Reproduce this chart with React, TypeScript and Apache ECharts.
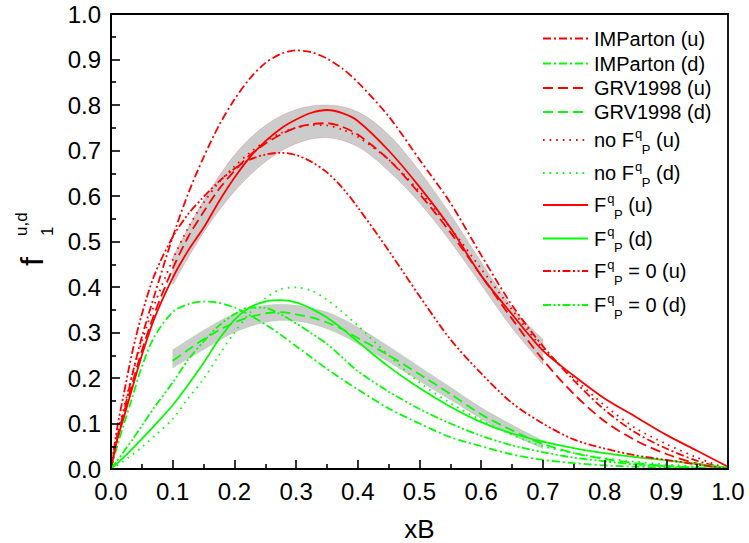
import React, { useEffect, useRef } from 'react';
import * as echarts from 'echarts';

// ---------- data ----------
const X = [0, 0.01, 0.02, 0.035, 0.05, 0.07, 0.1, 0.125, 0.15, 0.175, 0.2, 0.225, 0.25, 0.275, 0.3, 0.325, 0.35, 0.375, 0.4, 0.45, 0.5, 0.55, 0.6, 0.65, 0.7, 0.75, 0.8, 0.85, 0.9, 0.95, 1.0];

const IMP_U = [0, 0.06, 0.12, 0.21, 0.29, 0.38, 0.51, 0.605, 0.685, 0.755, 0.812, 0.858, 0.892, 0.912, 0.92, 0.916, 0.902, 0.88, 0.85, 0.775, 0.68, 0.585, 0.47, 0.36, 0.27, 0.195, 0.13, 0.08, 0.045, 0.018, 0];
const IMP_D = [0, 0.05, 0.095, 0.16, 0.225, 0.29, 0.345, 0.362, 0.368, 0.365, 0.355, 0.338, 0.318, 0.295, 0.27, 0.245, 0.22, 0.197, 0.175, 0.133, 0.1, 0.07, 0.05, 0.032, 0.02, 0.013, 0.008, 0.005, 0.003, 0.001, 0];
const GRV_U = [0, 0.07, 0.12, 0.19, 0.26, 0.34, 0.44, 0.51, 0.565, 0.615, 0.655, 0.69, 0.715, 0.735, 0.75, 0.758, 0.76, 0.752, 0.735, 0.68, 0.605, 0.52, 0.425, 0.33, 0.24, 0.165, 0.105, 0.063, 0.033, 0.012, 0];
const GRV_D = [null, null, null, null, null, null, 0.238, 0.262, 0.285, 0.305, 0.322, 0.334, 0.342, 0.345, 0.34, 0.333, 0.322, 0.307, 0.288, 0.25, 0.208, 0.165, 0.12, 0.085, 0.055, 0.035, 0.022, 0.013, 0.007, 0.003, 0];
const NOF_U = [0, 0.075, 0.13, 0.21, 0.28, 0.36, 0.46, 0.53, 0.585, 0.63, 0.665, 0.695, 0.72, 0.738, 0.75, 0.756, 0.755, 0.746, 0.73, 0.68, 0.61, 0.53, 0.44, 0.35, 0.265, 0.2, 0.14, 0.09, 0.055, 0.025, 0];
const NOF_D = [0, 0.008, 0.017, 0.032, 0.048, 0.072, 0.11, 0.155, 0.198, 0.25, 0.3, 0.343, 0.375, 0.395, 0.399, 0.392, 0.372, 0.345, 0.315, 0.25, 0.19, 0.145, 0.107, 0.075, 0.05, 0.035, 0.024, 0.016, 0.01, 0.005, 0];
const FQ_U = [0, 0.065, 0.11, 0.18, 0.25, 0.33, 0.42, 0.48, 0.53, 0.588, 0.64, 0.685, 0.72, 0.748, 0.768, 0.783, 0.789, 0.782, 0.765, 0.7, 0.62, 0.53, 0.425, 0.34, 0.26, 0.205, 0.155, 0.115, 0.075, 0.04, 0.005];
const FQ_D = [0, 0.012, 0.025, 0.045, 0.066, 0.095, 0.14, 0.185, 0.233, 0.285, 0.328, 0.355, 0.368, 0.371, 0.366, 0.352, 0.333, 0.308, 0.28, 0.225, 0.178, 0.137, 0.103, 0.078, 0.06, 0.046, 0.035, 0.026, 0.019, 0.011, 0.003];
const FQ0_U = [0, 0.09, 0.16, 0.26, 0.34, 0.425, 0.51, 0.56, 0.598, 0.632, 0.66, 0.68, 0.691, 0.695, 0.69, 0.675, 0.652, 0.618, 0.575, 0.48, 0.38, 0.285, 0.21, 0.145, 0.1, 0.065, 0.045, 0.03, 0.02, 0.01, 0];
const FQ0_D = [0, 0.018, 0.037, 0.065, 0.095, 0.135, 0.19, 0.24, 0.28, 0.315, 0.34, 0.355, 0.354, 0.34, 0.32, 0.298, 0.275, 0.245, 0.215, 0.17, 0.132, 0.1, 0.073, 0.052, 0.037, 0.025, 0.017, 0.01, 0.006, 0.003, 0];

// uncertainty bands
const BX = [0.1, 0.15, 0.2, 0.25, 0.3, 0.35, 0.4, 0.45, 0.5, 0.55, 0.6, 0.65, 0.7];
const BAND_U_LOW = [0.405, 0.52, 0.61, 0.675, 0.715, 0.728, 0.708, 0.655, 0.585, 0.5, 0.405, 0.31, 0.23];
const BAND_U_UP = [0.465, 0.59, 0.69, 0.755, 0.79, 0.8, 0.785, 0.735, 0.655, 0.56, 0.455, 0.355, 0.285];
const BAND_D_LOW = [0.222, 0.262, 0.3, 0.322, 0.325, 0.308, 0.275, 0.235, 0.193, 0.152, 0.11, 0.075, 0.045];
const BAND_D_UP = [0.262, 0.305, 0.342, 0.36, 0.36, 0.345, 0.312, 0.27, 0.225, 0.18, 0.135, 0.097, 0.062];

const LEGEND_LABELS = ['IMParton (u)', 'IMParton (d)', 'GRV1998 (u)', 'GRV1998 (d)', 'no F^q_P (u)', 'no F^q_P (d)', 'F^q_P (u)', 'F^q_P (d)', 'F^q_P = 0 (u)', 'F^q_P = 0 (d)'];
const SERIES_VALUES = [IMP_U, IMP_D, GRV_U, GRV_D, NOF_U, NOF_D, FQ_U, FQ_D, FQ0_U, FQ0_D];

const X_TICKS = [0, 0.1, 0.2, 0.3, 0.4, 0.5, 0.6, 0.7, 0.8, 0.9, 1.0];

// ---------- styles ----------
const FONT = '"Liberation Sans", Arial, Helvetica, sans-serif';
const RED = '#ff0000';
const GREEN = '#00ff00';
const DASH_DOT = [8, 3, 2, 3];
const DASH = [10, 5];
const DOT = [1.6, 5];
const DASH_DOT_DOT = [8, 2.5, 2, 2.5, 2, 2.5];
const STYLES: { color: string; dash: any }[] = [
  { color: RED, dash: DASH_DOT },
  { color: GREEN, dash: DASH_DOT },
  { color: RED, dash: DASH },
  { color: GREEN, dash: DASH },
  { color: RED, dash: DOT },
  { color: GREEN, dash: DOT },
  { color: RED, dash: 'solid' },
  { color: GREEN, dash: 'solid' },
  { color: RED, dash: DASH_DOT_DOT },
  { color: GREEN, dash: DASH_DOT_DOT },
];
const LEGEND_Y = [38.5, 63.5, 88, 112, 140, 173, 205, 238.5, 271, 305];
const LW = 1.8;

function catmull(points: number[][]): string {
  let d = '';
  const n = points.length;
  for (let i = 0; i < n - 1; i++) {
    const p0 = points[Math.max(0, i - 1)];
    const p1 = points[i];
    const p2 = points[i + 1];
    const p3 = points[Math.min(n - 1, i + 2)];
    const c1x = p1[0] + (p2[0] - p0[0]) / 6;
    const c1y = p1[1] + (p2[1] - p0[1]) / 6;
    const c2x = p2[0] - (p3[0] - p1[0]) / 6;
    const c2y = p2[1] - (p3[1] - p1[1]) / 6;
    d += ` C ${c1x} ${c1y} ${c2x} ${c2y} ${p2[0]} ${p2[1]}`;
  }
  return d;
}

function bandSeries(low: number[], up: number[], edge: string) {
  return {
    type: 'custom',
    coordinateSystem: 'cartesian2d',
    silent: true,
    z: 1,
    encode: { x: 0, y: [1, 2] },
    data: BX.map((x, i) => [x, low[i], up[i]]),
    renderItem: (params: any, api: any) => {
      if (params.dataIndex !== 0) return null;
      const upPts = BX.map((x, i) => api.coord([x, up[i]]));
      const lowPts = BX.map((x, i) => api.coord([x, low[i]])).reverse();
      const d =
        `M ${upPts[0][0]} ${upPts[0][1]}` +
        catmull(upPts) +
        ` L ${lowPts[0][0]} ${lowPts[0][1]}` +
        catmull(lowPts) +
        ' Z';
      return {
        type: 'path',
        shape: { pathData: d },
        style: { fill: '#cccccc', stroke: edge, lineWidth: 0.6 },
      };
    },
  };
}

export default function App() {
  const ref = useRef<HTMLDivElement>(null);

  useEffect(() => {
    const chart = echarts.init(ref.current!, null, { renderer: 'svg' });

    const canvas = document.createElement('canvas');
    const ctx = canvas.getContext('2d')!;
    const measure = (t: string, size: number) => {
      ctx.font = `${size}px ${FONT}`;
      return ctx.measureText(t).width;
    };

    const series: any[] = [
      bandSeries(BAND_U_LOW, BAND_U_UP, 'rgba(255,0,0,0.25)'),
      bandSeries(BAND_D_LOW, BAND_D_UP, 'rgba(0,255,0,0.25)'),
    ];
    SERIES_VALUES.forEach((vals, k) => {
      const data: number[][] = [];
      X.forEach((x, i) => {
        const v = vals[i];
        if (v !== null && v !== undefined) data.push([x, v as number]);
      });
      series.push({
        type: 'line',
        name: LEGEND_LABELS[k],
        data,
        showSymbol: false,
        symbol: 'none',
        smooth: 0.3,
        z: 3,
        lineStyle: { color: STYLES[k].color, width: LW, type: STYLES[k].dash },
      });
    });

    // legend graphics
    const graphic: any[] = [];
    const LX1 = 543;
    const LX2 = 588;
    const TX = 594;
    LEGEND_LABELS.forEach((label, k) => {
      const y = LEGEND_Y[k];
      const st = STYLES[k];
      graphic.push({
        type: 'line',
        shape: { x1: LX1, y1: y, x2: LX2, y2: y },
        style: {
          stroke: st.color,
          lineWidth: LW,
          lineDash: Array.isArray(st.dash) ? st.dash : null,
        },
      });
      const txt = (text: string, x: number, yy: number, size: number) => ({
        type: 'text',
        x,
        y: yy,
        style: {
          text,
          fontSize: size,
          fontFamily: FONT,
          fill: '#000',
          align: 'left',
          textAlign: 'left',
          verticalAlign: 'middle',
          textVerticalAlign: 'middle',
        },
      });
      const idx = label.indexOf('^q_P');
      if (idx < 0) {
        graphic.push(txt(label, TX, y, 20));
      } else {
        const base = label.slice(0, idx);
        const rest = label.slice(idx + 4);
        const wb = measure(base, 20);
        const xq = TX + wb + 1;
        const xp = xq + measure('q', 13) - 0.5;
        const xr = xp + measure('P', 13);
        graphic.push(txt(base, TX, y, 20));
        graphic.push(txt('q', xq, y - 7, 13));
        graphic.push(txt('P', xp, y + 9, 13));
        graphic.push(txt(rest, xr, y, 20));
      }
    });

    // y axis title: f_1^{u,d}, rotated
    const rot = Math.PI / 2;
    const vtxt = (text: string, x: number, y: number, size: number) => ({
      type: 'text',
      x,
      y,
      rotation: rot,
      style: {
        text,
        fontSize: size,
        fontFamily: FONT,
        fill: '#000',
        align: 'left',
        textAlign: 'left',
        verticalAlign: 'alphabetic',
        textVerticalAlign: 'bottom',
      },
    });
    graphic.push(vtxt('f', 48, 266, 32));
    graphic.push(vtxt('1', 56, 236, 17));
    graphic.push(vtxt('u,d', 30, 236, 17));

    const axisCommon = {
      type: 'value',
      min: 0,
      max: 1,
      interval: 0.1,
      z: 10,
      axisLine: { show: true, onZero: false, lineStyle: { color: '#000', width: 1.8 } },
      axisTick: { show: true, inside: true, length: 9, lineStyle: { color: '#000', width: 1.6 } },
      minorTick: { show: true, splitNumber: 2, length: 5, lineStyle: { color: '#000', width: 1.6 } },
      splitLine: { show: false },
      minorSplitLine: { show: false },
      axisLabel: {
        fontSize: 24,
        fontFamily: FONT,
        color: '#000',
        margin: 10,
        formatter: (v: number) => v.toFixed(1),
      },
    };

    chart.setOption({
      animation: false,
      backgroundColor: '#ffffff',
      grid: {
        left: 111,
        right: 21,
        top: 14,
        bottom: 74,
        show: true,
        borderColor: '#000',
        borderWidth: 1.8,
        backgroundColor: 'transparent',
        containLabel: false,
        outerBoundsMode: 'none',
      },
      xAxis: {
        ...axisCommon,
        name: 'xB',
        nameLocation: 'middle',
        nameGap: 47,
        nameTextStyle: { fontSize: 26, fontFamily: FONT, color: '#000' },
        axisLabel: { ...axisCommon.axisLabel, customValues: X_TICKS },
      },
      yAxis: { ...axisCommon },
      series,
      graphic,
    });

    return () => chart.dispose();
  }, []);

  return (
    <div
      ref={ref}
      style={{ position: 'absolute', left: 0, top: 0, width: 749, height: 543, background: '#fff' }}
    />
  );
}
